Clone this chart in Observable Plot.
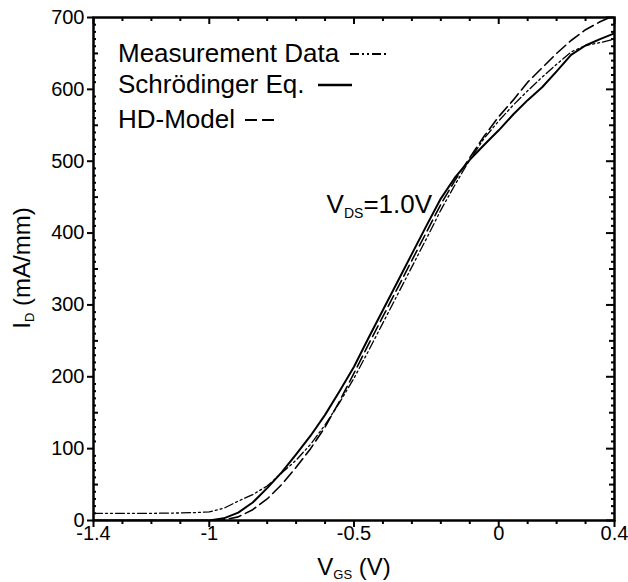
<!DOCTYPE html>
<html><head><meta charset="utf-8">
<script src="https://cdn.jsdelivr.net/npm/d3@7"></script>
<script src="https://cdn.jsdelivr.net/npm/@observablehq/plot@0.6"></script>
<style>body{margin:0;background:#fff}</style>
</head><body><div id="chart"></div>
<script>
// gate voltage grid (V)
const vgs = [-1.4,-1.3,-1.2,-1.1,-1.05,-1.0,-0.95,-0.9,-0.85,-0.8,-0.75,-0.7,-0.65,-0.6,-0.55,-0.5,-0.45,-0.4,-0.35,-0.3,-0.25,-0.2,-0.15,-0.1,-0.05,0,0.05,0.1,0.15,0.2,0.25,0.3,0.35,0.4];
// drain current (mA/mm)
const measured    = [10,10,10,10.5,11,12,17,27,36,48,66,84,106,133,164,198,236,275,314,353,392,432,468,502,532,556,578,598,617,635,652,661,665,670];
const schrodinger = [0,0,0,0,0,0,3,11,25,45,67,92,118,147,180,214,254,293,332,371,410,448,478,502,523,543,565,585,603,625,648,661,670,678];
const hdModel     = [0,0,0,0,0,0,1,5,15,30,50,74,100,130,166,205,245,284,323,362,401,440,474,505,535,562,585,610,630,650,668,683,694,703];

const seriesNames = ["Measurement Data", "Schrödinger Eq.", "HD-Model"];
const xMajorTicks = [-1.4, -1, -0.5, 0, 0.4];
const xMinorTicks = [-1.3,-1.2,-1.1,-0.9,-0.8,-0.7,-0.6,-0.4,-0.3,-0.2,-0.1,0.1,0.2,0.3];
const yMajorTicks = [0,100,200,300,400,500,600,700];
const yMidTicks = [50,150,250,350,450,550,650];
const yMinorTicks = [];
for (let i = 0; i < 70; i++) { if (i % 5 !== 0) yMinorTicks.push(i * 10); }
const annotationV = -0.593, annotationI = 427;

const styles = {
  "Measurement Data": {dash: "9,3,2,3,2,3", width: 1.3},
  "Schrödinger Eq.": {dash: null, width: 2},
  "HD-Model": {dash: "12,5", width: 1.6}
};

const toRows = (vals, name) => vgs.map((v, i) => ({v, I: vals[i], name}));
const rows = {
  "Measurement Data": toRows(measured, seriesNames[0]),
  "Schrödinger Eq.": toRows(schrodinger, seriesNames[1]),
  "HD-Model": toRows(hdModel, seriesNames[2])
};

const font = "'Liberation Sans', Arial, Helvetica, sans-serif";
const W = 628, H = 582, mL = 93, mR = 14, mT = 17, mB = 62;
const iw = W - mL - mR, ih = H - mT - mB;
const tw = 2;
// tick helpers (pixel lengths; positions come from the scales)
const tickTop = (data, len) => Plot.ruleX(data, {x: d => d, insetBottom: ih - len, stroke: "#000", strokeWidth: tw});
const tickBottomOut = (data, len) => Plot.ruleX(data, {x: d => d, insetTop: ih, insetBottom: -len, stroke: "#000", strokeWidth: tw});
const tickLeftIn = (data, len) => Plot.ruleY(data, {y: d => d, insetRight: iw - len, stroke: "#000", strokeWidth: tw});
const tickLeftOut = (data, len) => Plot.ruleY(data, {y: d => d, insetRight: iw, insetLeft: -len, stroke: "#000", strokeWidth: tw});
const tickRightIn = (data, len) => Plot.ruleY(data, {y: d => d, insetLeft: iw - len, stroke: "#000", strokeWidth: tw});

const plot = Plot.plot({
  width: W, height: H,
  marginLeft: mL, marginRight: mR, marginTop: mT, marginBottom: mB,
  style: {fontFamily: font, fontSize: "20px", color: "#000", background: "#fff", overflow: "visible"},
  x: {domain: [-1.4, 0.4]},
  y: {domain: [0, 700]},
  marks: [
    Plot.axisX({anchor: "bottom", ticks: xMajorTicks, tickSize: 0, tickPadding: 5, tickFormat: d => String(d), label: null}),
    Plot.axisY({anchor: "left", ticks: yMajorTicks, tickSize: 0, tickPadding: 9, tickFormat: d => String(d), label: null}),
    tickBottomOut(xMajorTicks, 7),
    tickBottomOut(xMinorTicks, 4),
    tickTop(xMajorTicks, 7),
    tickTop(xMinorTicks, 4),
    tickLeftOut(yMajorTicks, 6),
    tickLeftIn(yMidTicks, 5),
    tickLeftIn(yMinorTicks, 3),
    tickRightIn(yMajorTicks, 8),
    tickRightIn(yMidTicks, 5),
    tickRightIn(yMinorTicks, 3),
    ...seriesNames.map(n => Plot.line(rows[n], {x: "v", y: "I", stroke: "#000", strokeWidth: styles[n].width, strokeDasharray: styles[n].dash, clip: true})),
    Plot.frame({stroke: "#000", strokeWidth: 2.5})
  ]
});
document.getElementById("chart").appendChild(plot);

const svg = d3.select(plot);
const sx = plot.scale("x"), sy = plot.scale("y");

// axis titles
const xt = svg.append("text").attr("x", 354).attr("y", 575).attr("text-anchor", "middle")
  .attr("font-family", font).attr("font-size", 24).attr("fill", "#000");
xt.append("tspan").text("V");
xt.append("tspan").attr("font-size", 13).attr("dy", 4).text("GS");
xt.append("tspan").attr("dy", -4).text(" (V)");

const yt = svg.append("text").attr("transform", "translate(30,268) rotate(-90)").attr("text-anchor", "middle")
  .attr("font-family", font).attr("font-size", 24).attr("fill", "#000");
yt.append("tspan").text("I");
yt.append("tspan").attr("font-size", 13).attr("dy", 4).text("D");
yt.append("tspan").attr("dy", -4).text(" (mA/mm)");

// annotation
const an = svg.append("text").attr("x", sx.apply(annotationV)).attr("y", sy.apply(annotationI))
  .attr("text-anchor", "start")
  .attr("font-family", font).attr("font-size", 26).attr("fill", "#000");
an.append("tspan").text("V");
an.append("tspan").attr("font-size", 14).attr("dy", 5).text("DS");
an.append("tspan").attr("dy", -5).text("=1.0V");

// legend
const legendRows = [
  {name: seriesNames[0], y: 62, lx: 350, lw: 36},
  {name: seriesNames[1], y: 93, lx: 318, lw: 34},
  {name: seriesNames[2], y: 128, lx: 245, lw: 32}
];
const lg = svg.append("g");
legendRows.forEach(r => {
  lg.append("text").attr("x", 118).attr("y", r.y).attr("text-anchor", "start")
    .attr("font-family", font).attr("font-size", 26).attr("fill", "#000").text(r.name);
  lg.append("line").attr("x1", r.lx).attr("x2", r.lx + r.lw).attr("y1", r.y - 8).attr("y2", r.y - 8)
    .attr("stroke", "#000").attr("stroke-width", styles[r.name].width + 0.6)
    .attr("stroke-dasharray", styles[r.name].dash);
});
</script>
</body></html>
